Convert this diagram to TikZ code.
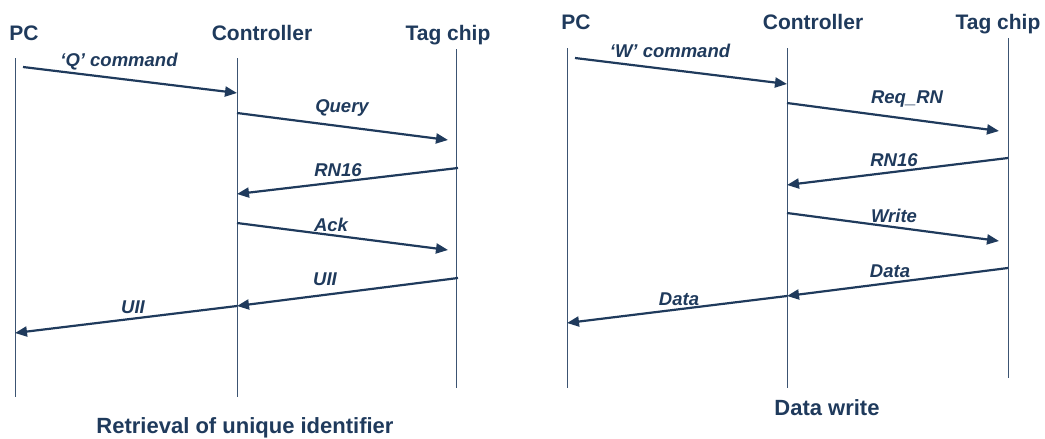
\documentclass[tikz,border=0pt]{standalone}
\usepackage{fontspec}
\setmainfont{Liberation Sans}
\usetikzlibrary{arrows.meta}
\definecolor{navy}{HTML}{1F3A5C}
\definecolor{lifec}{HTML}{3C5472}
\begin{document}
\begin{tikzpicture}[x=1pt,y=-1pt,
 head/.style={font=\fontsize{21}{24}\selectfont\bfseries, text=navy, inner sep=0pt, anchor=base},
 lbl/.style={font=\fontsize{18.5}{22}\selectfont\bfseries\itshape, text=navy, inner sep=0pt, anchor=base},
 ttl/.style={font=\fontsize{22}{26}\selectfont\bfseries, text=navy, inner sep=0pt, anchor=base},
 life/.style={draw=lifec, line width=1pt},
 msg/.style={draw=navy, line width=2.2pt, -{Triangle[length=12pt,width=10pt]}}]
\useasboundingbox (0,0) rectangle (1045,439);

% ---------- left diagram ----------
\node[head] (lpc) at (24,40) {PC};
\node[head] (lct) at (262,40) {Controller};
\node[head] (ltg) at (448,40) {Tag chip};

\coordinate (lpcT) at (15,58);   \coordinate (lpcB) at (15,397);
\coordinate (lctT) at (237,58);  \coordinate (lctB) at (237,397);
\coordinate (ltgT) at (456,49);  \coordinate (ltgB) at (456,388);
\draw[life] (lpcT) -- (lpcB);
\draw[life] (lctT) -- (lctB);
\draw[life] (ltgT) -- (ltgB);

\coordinate (l1a) at (23,67);   \coordinate (l1b) at (237,93);
\coordinate (l2a) at (237,113); \coordinate (l2b) at (448,140);
\coordinate (l3a) at (458,168); \coordinate (l3b) at (237,194);
\coordinate (l4a) at (237,223); \coordinate (l4b) at (448,250);
\coordinate (l5a) at (458,278); \coordinate (l5b) at (237,306);
\coordinate (l6b) at (15,333);
\draw[msg] (l1a) -- (l1b);
\draw[msg] (l2a) -- (l2b);
\draw[msg] (l3a) -- (l3b);
\draw[msg] (l4a) -- (l4b);
\draw[msg] (l5a) -- (l5b);
\draw[msg] (l5b) -- (l6b);

\node[lbl] (lq) at (119,66) {`Q' command};
\node[lbl] (lquery) at (342,112) {Query};
\node[lbl] (lrn) at (338,176) {RN16};
\node[lbl] (lack) at (331,231) {Ack};
\node[lbl] (luii1) at (325,285) {UII};
\node[lbl] (luii2) at (133,313) {UII};
\node[ttl] (ltitle) at (245,433) {Retrieval of unique identifier};

% ---------- right diagram ----------
\node[head] (rpc) at (576,29) {PC};
\node[head] (rct) at (813,29) {Controller};
\node[head] (rtg) at (998,29) {Tag chip};

\coordinate (rpcT) at (567,48);   \coordinate (rpcB) at (567,388);
\coordinate (rctT) at (787,48);   \coordinate (rctB) at (787,388);
\coordinate (rtgT) at (1008,38);  \coordinate (rtgB) at (1008,378);
\draw[life] (rpcT) -- (rpcB);
\draw[life] (rctT) -- (rctB);
\draw[life] (rtgT) -- (rtgB);

\coordinate (r1a) at (575,58);   \coordinate (r1b) at (787,84);
\coordinate (r2a) at (787,103);  \coordinate (r2b) at (999,131);
\coordinate (r3a) at (1008,158); \coordinate (r3b) at (787,185);
\coordinate (r4a) at (787,213);  \coordinate (r4b) at (999,241);
\coordinate (r5a) at (1008,268); \coordinate (r5b) at (787,296);
\coordinate (r6b) at (567,323);
\draw[msg] (r1a) -- (r1b);
\draw[msg] (r2a) -- (r2b);
\draw[msg] (r3a) -- (r3b);
\draw[msg] (r4a) -- (r4b);
\draw[msg] (r5a) -- (r5b);
\draw[msg] (r5b) -- (r6b);

\node[lbl] (rw) at (670,57) {`W' command};
\node[lbl] (rreq) at (907,103) {Req\_RN};
\node[lbl] (rrn) at (894,166) {RN16};
\node[lbl] (rwr) at (894,222) {Write};
\node[lbl] (rd1) at (890,277) {Data};
\node[lbl] (rd2) at (679,305) {Data};
\node[ttl] (rtitle) at (827,415) {Data write};
\end{tikzpicture}
\end{document}
